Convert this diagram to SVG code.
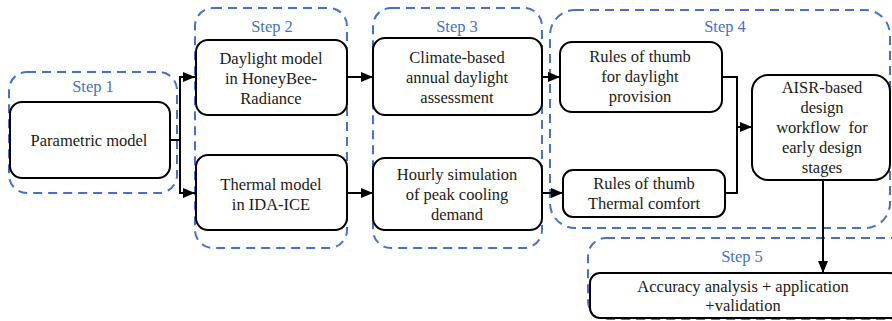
<svg xmlns="http://www.w3.org/2000/svg" width="892" height="321" viewBox="0 0 892 321">
<style>
.step{fill:none;stroke:#4472C4;stroke-width:2;stroke-dasharray:9 6}
.node{fill:#fff;stroke:#000;stroke-width:2}
text{font-family:'Liberation Serif','Times New Roman',Times,serif;font-size:16.5px;text-anchor:middle}
.t{fill:#1a1a1a}
.s{fill:#4472C4}
.c{fill:none;stroke:#000;stroke-width:2}
</style>
<defs>
<marker id="ah" markerWidth="12" markerHeight="10" refX="12" refY="5" orient="auto" markerUnits="userSpaceOnUse">
<path d="M0,0 L12,5 L0,10 z" fill="#000"/>
</marker>
</defs>
<g id="step1">
<rect class="step" x="9" y="72" width="168" height="121" rx="18"/>
<text class="s" x="93" y="92">Step 1</text>
</g>
<g id="step2">
<rect class="step" x="195" y="8" width="152" height="240" rx="18"/>
<text class="s" x="272" y="32">Step 2</text>
</g>
<g id="step3">
<rect class="step" x="373" y="8" width="169" height="240" rx="18"/>
<text class="s" x="457" y="32">Step 3</text>
</g>
<g id="step4">
<rect class="step" x="550" y="10" width="340" height="218" rx="25"/>
<text class="s" x="725" y="32">Step 4</text>
</g>
<g id="step5">
<rect class="step" x="588" y="238" width="320" height="81" rx="18"/>
<text class="s" x="742" y="262">Step 5</text>
</g>
<g id="parametric">
<rect class="node" x="10" y="102" width="160" height="76" rx="12"/>
<text class="t" x="89" y="146">Parametric model</text>
</g>
<g id="daylight-model">
<rect class="node" x="196" y="40" width="151" height="75" rx="12"/>
<text class="t" x="271" y="64">Daylight model</text>
<text class="t" x="271" y="84">in HoneyBee-</text>
<text class="t" x="271" y="104">Radiance</text>
</g>
<g id="thermal-model">
<rect class="node" x="196" y="155" width="151" height="75" rx="12"/>
<text class="t" x="271" y="190">Thermal model</text>
<text class="t" x="271" y="210">in IDA-ICE</text>
</g>
<g id="climate">
<rect class="node" x="373" y="38" width="169" height="77" rx="12"/>
<text class="t" x="457" y="63">Climate-based</text>
<text class="t" x="457" y="83">annual daylight</text>
<text class="t" x="457" y="103">assessment</text>
</g>
<g id="hourly">
<rect class="node" x="373" y="158" width="169" height="72" rx="12"/>
<text class="t" x="457" y="180">Hourly simulation</text>
<text class="t" x="457" y="200">of peak cooling</text>
<text class="t" x="457" y="220">demand</text>
</g>
<g id="rules-daylight">
<rect class="node" x="560" y="42" width="162" height="70" rx="12"/>
<text class="t" x="640" y="62">Rules of thumb</text>
<text class="t" x="640" y="82">for daylight</text>
<text class="t" x="640" y="102">provision</text>
</g>
<g id="rules-thermal">
<rect class="node" x="563" y="170" width="162" height="47" rx="10"/>
<text class="t" x="644" y="189">Rules of thumb</text>
<text class="t" x="644" y="209">Thermal comfort</text>
</g>
<g id="aisr">
<rect class="node" x="752" y="75" width="138" height="105" rx="16"/>
<text class="t" x="822" y="93">AISR-based</text>
<text class="t" x="822" y="113">design</text>
<text class="t" x="822" y="133" xml:space="preserve">workflow  for</text>
<text class="t" x="822" y="153">early design</text>
<text class="t" x="822" y="173">stages</text>
</g>
<g id="accuracy">
<rect class="node" x="590" y="273" width="310" height="45" rx="10"/>
<text class="t" x="743" y="292">Accuracy analysis + application</text>
<text class="t" x="743" y="311">+validation</text>
</g>
<g id="connectors">
<path class="c" d="M170,140 H180 V77 H195" marker-end="url(#ah)"/>
<path class="c" d="M180,140 V193 H195" marker-end="url(#ah)"/>
<path class="c" d="M347,77 H373" marker-end="url(#ah)"/>
<path class="c" d="M347,193 H373" marker-end="url(#ah)"/>
<path class="c" d="M542,77 H560" marker-end="url(#ah)"/>
<path class="c" d="M542,193 H563" marker-end="url(#ah)"/>
<path class="c" d="M722,77 H737 V193 H725"/>
<path class="c" d="M737,127 H752" marker-end="url(#ah)"/>
<path class="c" d="M823,180 V273" marker-end="url(#ah)"/>
</g>
</svg>
